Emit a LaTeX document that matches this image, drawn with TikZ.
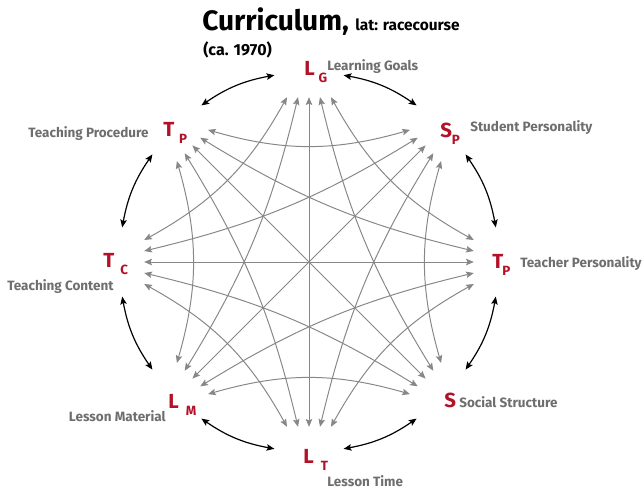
\documentclass[tikz,border=0pt]{standalone}
\usepackage{fontspec}
\setmainfont{Fira Sans}
\usetikzlibrary{arrows.meta}

\definecolor{labred}{RGB}{178,18,40}
\definecolor{labgray}{RGB}{110,110,110}
\definecolor{linkgray}{RGB}{135,135,135}

% big letter with its index letter
\newcommand{\redlab}[3]{#1\kern#3pt\raisebox{-5pt}{\fontsize{9.5}{10}\selectfont #2}}

\tikzset{
  letter/.style={anchor=base west, inner sep=0pt, text=labred,
    font=\fontsize{14.5}{15}\selectfont\bfseries},
  caption/.style={anchor=base west, inner sep=0pt, text=labgray,
    font=\fontsize{9.6}{10}\selectfont\bfseries},
  crosslink/.style={linkgray, line width=0.7pt,
    {Stealth[length=5.5pt,width=4.6pt,inset=1pt]}-{Stealth[length=5.5pt,width=4.6pt,inset=1pt]}},
  ringlink/.style={black, line width=0.85pt,
    {Stealth[length=5.5pt,width=4.6pt,inset=1pt]}-{Stealth[length=5.5pt,width=4.6pt,inset=1pt]}}
}

\begin{document}
\begin{tikzpicture}

    \useasboundingbox (-7.725,-5.675) rectangle (8.325,6.55);

    %% Title
    \node[anchor=base west, inner sep=0pt, font=\fontsize{20}{21}\selectfont\bfseries] (title) at (-2.675,5.7875) {Curriculum,};
    \node[anchor=base west, inner sep=0pt, font=\fontsize{11}{12}\selectfont\bfseries] (lat) at (1.15,5.8) {lat: racecourse};
    \node[anchor=base west, inner sep=0pt, font=\fontsize{11.4}{12}\selectfont\bfseries] (year) at (-2.65,5.175) {(ca. 1970)};

    %% End points of the links (0 = T_P at the right, counter-clockwise)
    \foreach \i in {0,...,7}
        \foreach \k in {2,...,6} {
            \pgfmathtruncatemacro\j{mod(\i+\k,8)}
            \path (\i*45:4.12) ++(\i*45+90:{(4-\k)*0.275}) coordinate (p\i-\j);
        }

    %% Links between the factors
    \foreach \i in {0,...,7} {
        \pgfmathtruncatemacro\j{mod(\i+2,8)}
        \draw[crosslink] (p\i-\j) to[bend left=16] (p\j-\i);
        \pgfmathtruncatemacro\j{mod(\i+3,8)}
        \draw[crosslink] (p\i-\j) to[bend left=9] (p\j-\i);
    }
    \foreach \i in {0,...,3} {
        \pgfmathtruncatemacro\j{\i+4}
        \draw[crosslink] (p\i-\j) -- (p\j-\i);
    }

    %% Neighbours on the ring
    \foreach \i in {0,...,7} {
        \coordinate (a\i) at (\i*45+10.5:4.75);
        \coordinate (b\i) at (\i*45+34.5:4.75);
        \draw[ringlink] (a\i) to[bend right=12] (b\i);
    }

    %% Factors
    \node[letter] (tp) at (4.575,-0.15) {\redlab{T}{P}{-0.7}};
    \node[letter] (sp) at (3.275,3.125) {\redlab{S}{P}{0}};
    \node[letter] (lg) at (-0.125,4.675) {\redlab{L}{G}{2.8}};
    \node[letter] (tproc) at (-3.65,3.15) {\redlab{T}{P}{3.5}};
    \node[letter] (tc) at (-5.15,-0.125) {\redlab{T}{C}{4.3}};
    \node[letter] (lm) at (-3.525,-3.65) {\redlab{L}{M}{5}};
    \node[letter] (lt) at (-0.15,-5.025) {\redlab{L}{T}{5}};
    \node[letter] (ss) at (3.375,-3.625) {S};

    % Names
    \node[caption] (tpname) at (5.275,-0.14) {Teacher Personality};
    \node[caption] (spname) at (4.025,3.26) {Student Personality};
    \node[caption] (lgname) at (0.45,4.79) {Learning Goals};
    \node[caption] (tprocname) at (-7.025,3.125) {Teaching Procedure};
    \node[caption] (tcname) at (-7.55,-0.7) {Teaching Content};
    \node[caption, anchor=base east] (lmname) at (-3.575,-3.99) {Lesson Material};
    \node[caption] (ltname) at (0.45,-5.6) {Lesson Time};
    \node[caption] (ssname) at (3.75,-3.64) {Social Structure};

\end{tikzpicture}
\end{document}
